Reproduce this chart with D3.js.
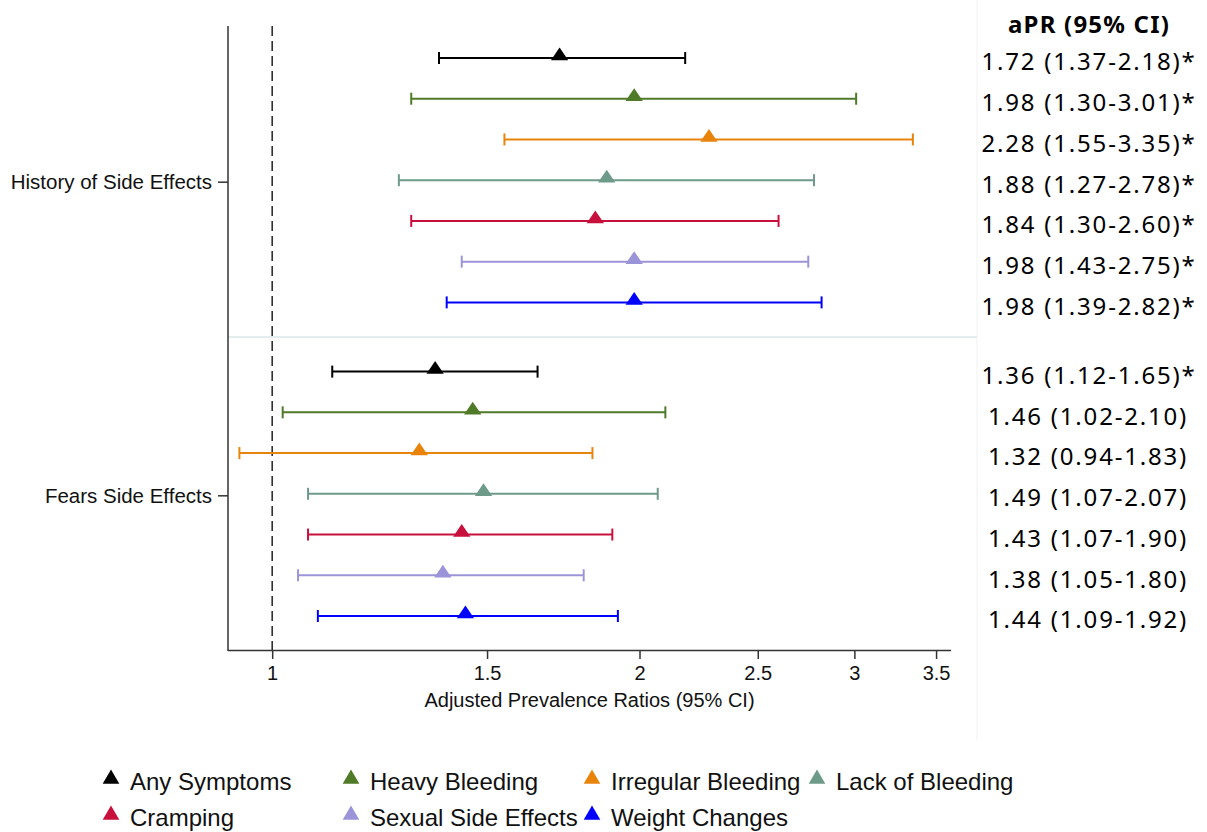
<!DOCTYPE html>
<html>
<head>
<meta charset="utf-8">
<script src="https://cdn.jsdelivr.net/npm/d3@7"></script>
<style>
  body { margin: 0; background: #fff; }
  svg { display: block; }
</style>
</head>
<body>
<div id="chart"></div>
<script>
// Data
const categories = ['Any Symptoms', 'Heavy Bleeding', 'Irregular Bleeding', 'Lack of Bleeding',
                    'Cramping', 'Sexual Side Effects', 'Weight Changes']
const colors = ['#000000', '#4f7a28', '#e8840c', '#6e9a89', '#c8103c', '#9b94d8', '#0000ff']
const groups = ['History of Side Effects', 'Fears Side Effects']

const historyEst  = [1.72, 1.98, 2.28, 1.88, 1.84, 1.98, 1.98]
const historyLow  = [1.37, 1.30, 1.55, 1.27, 1.30, 1.43, 1.39]
const historyHigh = [2.18, 3.01, 3.35, 2.78, 2.60, 2.75, 2.82]
const historySig  = [1, 1, 1, 1, 1, 1, 1]

const fearsEst  = [1.36, 1.46, 1.32, 1.49, 1.43, 1.38, 1.44]
const fearsLow  = [1.12, 1.02, 0.94, 1.07, 1.07, 1.05, 1.09]
const fearsHigh = [1.65, 2.10, 1.83, 2.07, 1.90, 1.80, 1.92]
const fearsSig  = [1, 0, 0, 0, 0, 0, 0]

const xTicks = [1, 1.5, 2, 2.5, 3, 3.5]
const tableHeader = 'aPR (95% CI)'

// Build rows (group gap of 1.7 row steps)
let rows = []
categories.forEach((c, i) => rows.push({group: 0, cat: i, pos: i,
    est: historyEst[i], low: historyLow[i], high: historyHigh[i], sig: historySig[i]}))
categories.forEach((c, i) => rows.push({group: 1, cat: i, pos: i + 7.7,
    est: fearsEst[i], low: fearsLow[i], high: fearsHigh[i], sig: fearsSig[i]}))

const width = 1207, height = 832
const plotLeft = 228, plotRight = 951, plotTop = 26, plotBottom = 650

const svg = d3.select('#chart').append('svg')
    .attr('width', width)
    .attr('height', height)
    .style('font-family', '"Liberation Sans", Arial, sans-serif')

svg.append('rect').attr('width', width).attr('height', height).attr('fill', '#fff')

// Scales
const x = d3.scaleLog().domain([0.92, 3.6]).range([plotLeft, plotRight])
const y = d3.scaleLinear().domain([0, 13.7]).range([58, 616])
const yText = d3.scaleLinear().domain([0, 13.7]).range([62, 620])
const color = d3.scaleOrdinal().domain(d3.range(categories.length)).range(colors)

// Faint panel edge of the table
svg.append('line')
    .attr('x1', 977).attr('x2', 977).attr('y1', 0).attr('y2', 740)
    .attr('stroke', '#f2f2f2').attr('stroke-width', 1)

// Separator between groups
svg.append('line')
    .attr('x1', plotLeft).attr('x2', 977)
    .attr('y1', y(6.85)).attr('y2', y(6.85))
    .attr('stroke', '#e3eded').attr('stroke-width', 2)

// Reference line at 1
svg.append('line')
    .attr('x1', x(1)).attr('x2', x(1))
    .attr('y1', plotTop).attr('y2', plotBottom)
    .attr('stroke', '#222').attr('stroke-width', 1.5)
    .attr('stroke-dasharray', '10,5')

// Bottom axis
const xAxis = d3.axisBottom(x).tickValues(xTicks).tickSize(9).tickPadding(7)
    .tickFormat(d3.format('~g'))
const gx = svg.append('g')
    .attr('transform', `translate(0,${plotBottom})`)
    .call(xAxis)
gx.select('.domain').attr('d', `M${plotLeft},0.5H${plotRight}`).attr('stroke', '#333').attr('stroke-width', 1.5)
gx.selectAll('.tick line').attr('stroke', '#333').attr('stroke-width', 1.5)
gx.selectAll('.tick text').attr('fill', '#111').style('font-size', '20px').style('font-family', '"Liberation Sans", Arial, sans-serif')

svg.append('text')
    .attr('x', (plotLeft + plotRight) / 2)
    .attr('y', 707)
    .attr('text-anchor', 'middle')
    .style('font-size', '20px')
    .attr('fill', '#111')
    .text('Adjusted Prevalence Ratios (95% CI)')

// Left axis
svg.append('line')
    .attr('x1', plotLeft).attr('x2', plotLeft)
    .attr('y1', plotTop).attr('y2', plotBottom + 1)
    .attr('stroke', '#333').attr('stroke-width', 1.5)

const groupPos = [3, 10.7]
groups.forEach((g, i) => {
    svg.append('line')
        .attr('x1', plotLeft - 10).attr('x2', plotLeft)
        .attr('y1', y(groupPos[i]) + 2).attr('y2', y(groupPos[i]) + 2)
        .attr('stroke', '#333').attr('stroke-width', 1.5)
    svg.append('text')
        .attr('x', plotLeft - 16)
        .attr('y', y(groupPos[i]) + 2)
        .attr('dy', '0.35em')
        .attr('text-anchor', 'end')
        .style('font-size', '20.5px')
        .attr('fill', '#111')
        .text(g)
})

// Error bars
const bars = svg.append('g').selectAll('g')
    .data(rows)
    .join('g')
    .attr('stroke', d => color(d.cat))
    .attr('stroke-width', 2)

bars.append('line')
    .attr('x1', d => x(d.low)).attr('x2', d => x(d.high))
    .attr('y1', d => y(d.pos)).attr('y2', d => y(d.pos))

bars.append('line')
    .attr('x1', d => x(d.low)).attr('x2', d => x(d.low))
    .attr('y1', d => y(d.pos) - 6).attr('y2', d => y(d.pos) + 6)

bars.append('line')
    .attr('x1', d => x(d.high)).attr('x2', d => x(d.high))
    .attr('y1', d => y(d.pos) - 6).attr('y2', d => y(d.pos) + 6)

// Point estimates (slightly flattened triangles)
const tri = d3.symbol().type(d3.symbolTriangle).size(130)
svg.append('g').selectAll('path')
    .data(rows)
    .join('path')
    .attr('d', tri)
    .attr('transform', d => `translate(${x(d.est)},${y(d.pos) - 2}) scale(1,0.85)`)
    .attr('fill', d => color(d.cat))

// Table of estimates
const tableX = 1089
svg.append('text')
    .attr('x', tableX)
    .attr('y', 25)
    .attr('dy', '0.35em')
    .attr('text-anchor', 'middle')
    .style('font-family', '"Noto Sans", sans-serif')
    .style('font-weight', 'bold')
    .style('font-size', '24px')
    .style('letter-spacing', '1.2px')
    .attr('fill', '#000')
    .text(tableHeader)

svg.append('g').selectAll('text')
    .data(rows)
    .join('text')
    .attr('x', d => d.sig ? tableX : tableX - 1)
    .attr('y', d => yText(d.pos))
    .attr('dy', '0.35em')
    .attr('text-anchor', 'middle')
    .style('font-family', '"Noto Sans", sans-serif')
    .style('font-size', '24px')
    .style('letter-spacing', '1.8px')
    .attr('fill', '#000')
    .text(d => `${d.est.toFixed(2)} (${d.low.toFixed(2)}-${d.high.toFixed(2)})` + (d.sig ? '*' : ''))

// Legend
const legendCols = [111, 351, 592, 817]
const legendRows = [782, 818]
const legendTri = d3.symbol().type(d3.symbolTriangle).size(120)
const legend = svg.append('g').selectAll('g')
    .data(categories)
    .join('g')
    .attr('transform', (d, i) => `translate(${legendCols[i % 4]},${legendRows[Math.floor(i / 4)]})`)

legend.append('path')
    .attr('d', legendTri)
    .attr('transform', 'translate(0,-3)')
    .attr('fill', (d, i) => color(i))

legend.append('text')
    .attr('x', 19)
    .attr('dy', '0.35em')
    .style('font-size', '24px')
    .attr('fill', '#111')
    .text(d => d)
</script>
</body>
</html>
